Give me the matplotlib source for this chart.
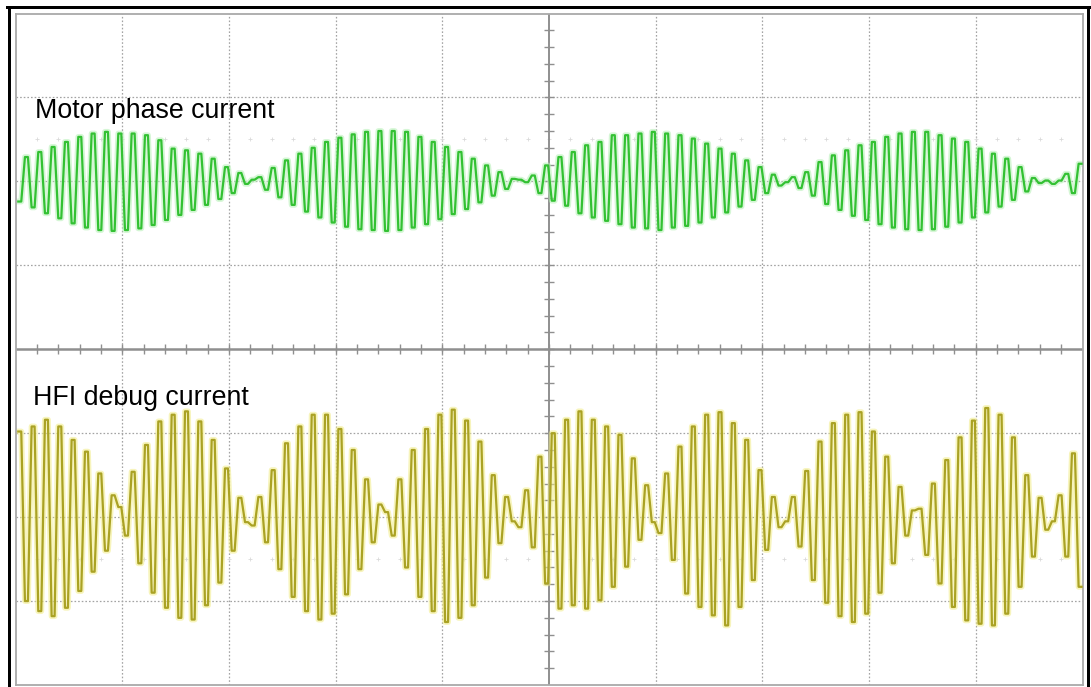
import numpy as np
import matplotlib
matplotlib.use("Agg")
import matplotlib.pyplot as plt
from matplotlib.lines import Line2D

# ---- scope screen geometry (in divisions) ----
N_XDIV = 10
N_YDIV = 8
half_period = 0.0625      # time between successive turning points (div)
t_start = 0.04            # time of the first turning point (div)
plateau = 0.014           # half width of the flat top drawn at each turning point (div)

motor_offset = 2.0        # channel 1 ground level (div)
hfi_offset = -2.0         # channel 2 ground level (div)

# Turning points (peaks / troughs) of each trace, in divisions from its ground level
motor_phase_current = [
    -0.24, 0.29, -0.31, 0.35, -0.38, 0.41, -0.44, 0.47, -0.50, 0.53,
    -0.55, 0.57, -0.58, 0.59, -0.59, 0.57, -0.58, 0.57, -0.56, 0.55,
    -0.52, 0.49, -0.46, 0.39, -0.40, 0.37, -0.34, 0.33, -0.28, 0.27,
    -0.21, 0.17, -0.14, 0.10, -0.03, 0.02, 0.05, -0.10, 0.16, -0.19,
    0.25, -0.28, 0.33, -0.36, 0.40, -0.43, 0.47, -0.49, 0.52, -0.54,
    0.56, -0.57, 0.59, -0.58, 0.60, -0.59, 0.60, -0.58, 0.59, -0.55,
    0.53, -0.51, 0.47, -0.45, 0.41, -0.39, 0.35, -0.33, 0.27, -0.25,
    0.19, -0.17, 0.11, -0.09, 0.03, 0.02, -0.01, 0.07, -0.14, 0.19,
    -0.23, 0.29, -0.29, 0.35, -0.38, 0.43, -0.43, 0.47, -0.47, 0.55,
    -0.51, 0.55, -0.55, 0.57, -0.56, 0.59, -0.58, 0.57, -0.55, 0.55,
    -0.53, 0.51, -0.49, 0.45, -0.43, 0.39, -0.37, 0.33, -0.30, 0.25,
    -0.22, 0.17, -0.14, 0.08, -0.05, -0.01, 0.05, -0.08, 0.11, -0.17,
    0.23, -0.27, 0.31, -0.34, 0.37, -0.41, 0.43, -0.46, 0.47, -0.51,
    0.53, -0.55, 0.57, -0.57, 0.59, -0.58, 0.59, -0.57, 0.55, -0.54,
    0.51, -0.49, 0.47, -0.43, 0.39, -0.37, 0.33, -0.30, 0.27, -0.22,
    0.17, -0.12, 0.04, -0.02, 0.01, -0.03, 0.01, 0.09, -0.14, 0.21,
]

hfi_debug_current = [
    1.02, -1.00, 1.08, -1.12, 1.16, -1.18, 1.08, -1.08, 0.92, -0.88,
    0.78, -0.65, 0.52, -0.40, 0.26, 0.12, -0.22, 0.54, -0.55, 0.86,
    -0.90, 1.14, -1.08, 1.22, -1.20, 1.26, -1.22, 1.14, -1.05, 0.92,
    -0.78, 0.58, -0.40, 0.23, -0.06, -0.10, 0.24, -0.30, 0.56, -0.62,
    0.88, -0.95, 1.08, -1.12, 1.22, -1.22, 1.22, -1.15, 1.05, -0.92,
    0.80, -0.62, 0.45, -0.30, 0.15, 0.06, -0.22, 0.45, -0.60, 0.80,
    -0.95, 1.05, -1.12, 1.22, -1.25, 1.28, -1.20, 1.15, -1.05, 0.90,
    -0.72, 0.50, -0.31, 0.24, -0.05, -0.12, 0.32, -0.36, 0.72, -0.79,
    1.00, -1.09, 1.16, -1.05, 1.26, -1.09, 1.16, -0.99, 1.08, -0.83,
    0.98, -0.59, 0.70, -0.27, 0.38, -0.06, -0.19, 0.52, -0.51, 0.84,
    -0.91, 1.08, -1.07, 1.22, -1.17, 1.25, -1.29, 1.12, -1.07, 0.92,
    -0.75, 0.56, -0.39, 0.24, -0.12, -0.05, 0.24, -0.35, 0.55, -0.75,
    0.90, -1.02, 1.12, -1.18, 1.22, -1.25, 1.25, -1.15, 1.02, -0.90,
    0.72, -0.55, 0.36, -0.22, 0.08, 0.10, -0.45, 0.40, -0.79, 0.68,
    -1.07, 0.95, -1.23, 1.15, -1.27, 1.30, -1.29, 1.22, -1.15, 0.95,
    -0.83, 0.50, -0.47, 0.23, -0.15, -0.05, 0.26, -0.47, 0.76, -0.83,
]

trace_labels = ["Motor phase current", "HFI debug current"]
label_positions = [(0.18, 2.76), (0.16, -0.67)]   # (time div, level div) of text baseline

motor_color = "#33c133"
motor_glow = "#b4f0b4"
hfi_color = "#aaa224"
hfi_glow = "#f1ec86"
grid_color = "#a3a3a3"
axis_color = "#8f8f8f"

W, H = 1091, 687
fig = plt.figure(figsize=(W / 100, H / 100), dpi=100)
fig.patch.set_facecolor("white")

# screen area
left_px, right_px, top_px, bottom_px = 15.5, 1082.5, 13.5, 685.0
ax = fig.add_axes([left_px / W, (H - bottom_px) / H,
                   (right_px - left_px) / W, (bottom_px - top_px) / H])
ax.set_xlim(0, N_XDIV)
ax.set_ylim(-N_YDIV / 2, N_YDIV / 2)
ax.set_xticks([])
ax.set_yticks([])
for sp in ax.spines.values():
    sp.set_color("#a9a9a9")
    sp.set_linewidth(1.3)

# dotted graticule
for gx in range(1, N_XDIV):
    if gx != N_XDIV // 2:
        ax.axvline(gx, color=grid_color, lw=0.9, ls=(0, (1.3, 1.6)), zorder=1)
for gy in range(-N_YDIV // 2 + 1, N_YDIV // 2):
    if gy != 0:
        ax.axhline(gy, color=grid_color, lw=0.9, ls=(0, (1.3, 1.6)), zorder=1)

# centre axes with minor ticks
ax.axvline(N_XDIV / 2, color=axis_color, lw=1.4, zorder=1.5)
ax.axhline(0, color=axis_color, lw=1.8, zorder=1.5)
minor_x = np.arange(0.2, N_XDIV, 0.2)
minor_y = np.arange(-N_YDIV / 2 + 0.2, N_YDIV / 2, 0.2)
ax.plot(minor_x, np.zeros_like(minor_x), ls="none", marker="|", ms=7,
        mew=1.0, color=axis_color, zorder=1.5)
ax.plot(np.full_like(minor_y, N_XDIV / 2), minor_y, ls="none", marker="_",
        ms=7, mew=1.0, color=axis_color, zorder=1.5)

# faint level markers
for lvl in (2.5, -2.5):
    ax.plot(minor_x, np.full_like(minor_x, lvl), ls="none", marker="+", ms=3,
            mew=0.6, color="#dadada", zorder=1)


def trace_path(values, offset):
    """Each turning point is drawn as a short flat top/bottom."""
    v = np.asarray(values, dtype=float)
    t = t_start + half_period * np.arange(len(v))
    tt = np.column_stack([t - plateau, t + plateau]).ravel()
    yy = np.repeat(v + offset, 2)
    return tt, yy


for values, offset, col, glow in [
    (motor_phase_current, motor_offset, motor_color, motor_glow),
    (hfi_debug_current, hfi_offset, hfi_color, hfi_glow),
]:
    tt, yy = trace_path(values, offset)
    ax.plot(tt, yy, color=glow, lw=4.2, alpha=0.55, zorder=2)
    ax.plot(tt, yy, color=col, lw=1.6, zorder=3)

for txt, (tx, ty) in zip(trace_labels, label_positions):
    ax.text(tx, ty, txt, fontsize=19.3, family="Liberation Sans",
            color="black", ha="left", va="baseline", zorder=4)

# black outer frame (open at the bottom)
lw_frame = 3 * 72 / 100
fig.add_artist(Line2D([8.5 / W, 8.5 / W], [0, (H - 7.0) / H], color="black",
                      lw=lw_frame, transform=fig.transFigure))
fig.add_artist(Line2D([1087.5 / W, 1087.5 / W], [0, (H - 7.0) / H],
                      color="black", lw=lw_frame, transform=fig.transFigure))
fig.add_artist(Line2D([7.0 / W, 1089.0 / W], [(H - 7.0) / H, (H - 7.0) / H],
                      color="black", lw=lw_frame, transform=fig.transFigure))

fig.savefig("out.png", dpi=100, facecolor="white")
